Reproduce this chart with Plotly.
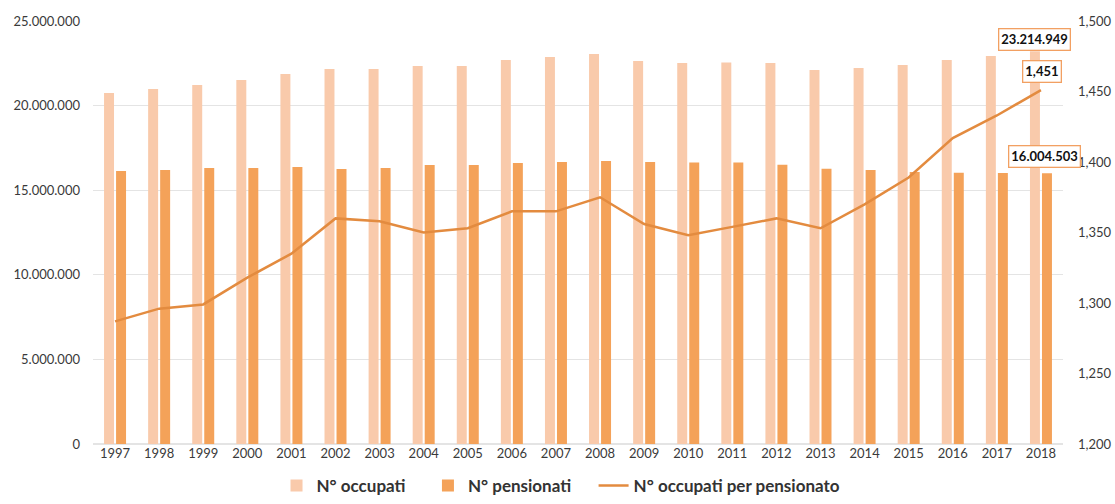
import plotly.graph_objects as go

years = [str(y) for y in range(1997, 2019)]
occupati = [20750000, 20980000, 21220000, 21510000, 21870000, 22160000, 22160000,
            22340000, 22340000, 22700000, 22870000, 23050000, 22640000, 22520000,
            22550000, 22520000, 22100000, 22220000, 22400000, 22700000, 22930000,
            23214949]
pensionati = [16130000, 16190000, 16310000, 16310000, 16370000, 16250000, 16310000,
              16490000, 16490000, 16610000, 16670000, 16730000, 16670000, 16630000,
              16630000, 16510000, 16270000, 16190000, 16080000, 16030000, 16020000,
              16004503]
rapporto = [1.287, 1.296, 1.299, 1.318, 1.335, 1.360, 1.358, 1.350, 1.353, 1.365,
            1.365, 1.375, 1.356, 1.348, 1.354, 1.360, 1.353, 1.370, 1.389, 1.417,
            1.433, 1.451]

LIGHT = "#F9CAAB"
DARK = "#F4A259"
LINE = "#E38B3F"
FONT = "Lato"
TICK = "#3A3A3A"
PAD = "\u00a0" * 4

fig = go.Figure()
fig.add_trace(go.Bar(x=years, y=occupati, name="<b>N° occupati</b>" + PAD, marker_color=LIGHT,
                     marker_line_width=0, yaxis="y"))
fig.add_trace(go.Bar(x=years, y=pensionati, name="<b>N° pensionati</b>" + PAD, marker_color=DARK,
                     marker_line_width=0, yaxis="y"))
fig.add_trace(go.Scatter(x=years, y=rapporto, name="<b>N° occupati per pensionato</b>",
                         mode="lines", line=dict(color=LINE, width=2.5), yaxis="y2"))

def fmt_int(v):
    return f"{v:,.0f}".replace(",", ".")

last = len(years) - 1  # category index of the last year
ann_style = dict(showarrow=False, bordercolor="#F2A062", borderwidth=1.3, borderpad=2,
                 bgcolor="white", font=dict(family=FONT, size=13, color="#111111"))
fig.add_annotation(x=last, y=occupati[-1], xref="x", yref="y",
                   text=f"<b>{fmt_int(occupati[-1])}</b>", xshift=-6, yshift=12, **ann_style)
fig.add_annotation(x=last, y=rapporto[-1], xref="x", yref="y2",
                   text=f"<b>{rapporto[-1]:.3f}</b>".replace(".", ","),
                   xshift=1, yshift=19, **ann_style)
fig.add_annotation(x=last, y=pensionati[-1], xref="x", yref="y",
                   text=f"<b>{fmt_int(pensionati[-1])}</b>", xshift=4, yshift=17, **ann_style)

fig.update_layout(
    width=1115, height=504,
    margin=dict(l=93, r=52, t=21, b=60, autoexpand=False),
    paper_bgcolor="white", plot_bgcolor="white",
    barmode="group", bargap=0.455, bargroupgap=0.17,
    separators=",.",
    font=dict(family=FONT, size=13, color=TICK),
    showlegend=True,
    legend=dict(orientation="h", xref="container", x=0.248, xanchor="left",
                yref="container", y=0.0, yanchor="bottom",
                font=dict(family=FONT, size=17, color="#333333"),
                itemwidth=30, traceorder="normal"),
    xaxis=dict(type="category", categoryorder="array", categoryarray=years,
               range=[-0.5, len(years) - 0.5],
               showgrid=False, showline=False, ticks="", automargin=False,
               tickfont=dict(size=13, color=TICK)),
    yaxis=dict(range=[0, 25000000], dtick=5000000, tickformat=",.0f",
               showgrid=True, gridcolor="#E4E4E4", gridwidth=1, zeroline=True,
               zerolinecolor="#E4E4E4", showline=False, ticks="",
               ticklabelstandoff=12, automargin=False,
               tickfont=dict(size=13, color=TICK)),
    yaxis2=dict(overlaying="y", side="right", anchor="x", range=[1.2, 1.5], dtick=0.05,
                tickformat=".3f", showgrid=False, zeroline=False, showline=False,
                ticklabelstandoff=14, automargin=False,
                tickfont=dict(size=13, color=TICK)),
)

fig.write_html("out.html")
